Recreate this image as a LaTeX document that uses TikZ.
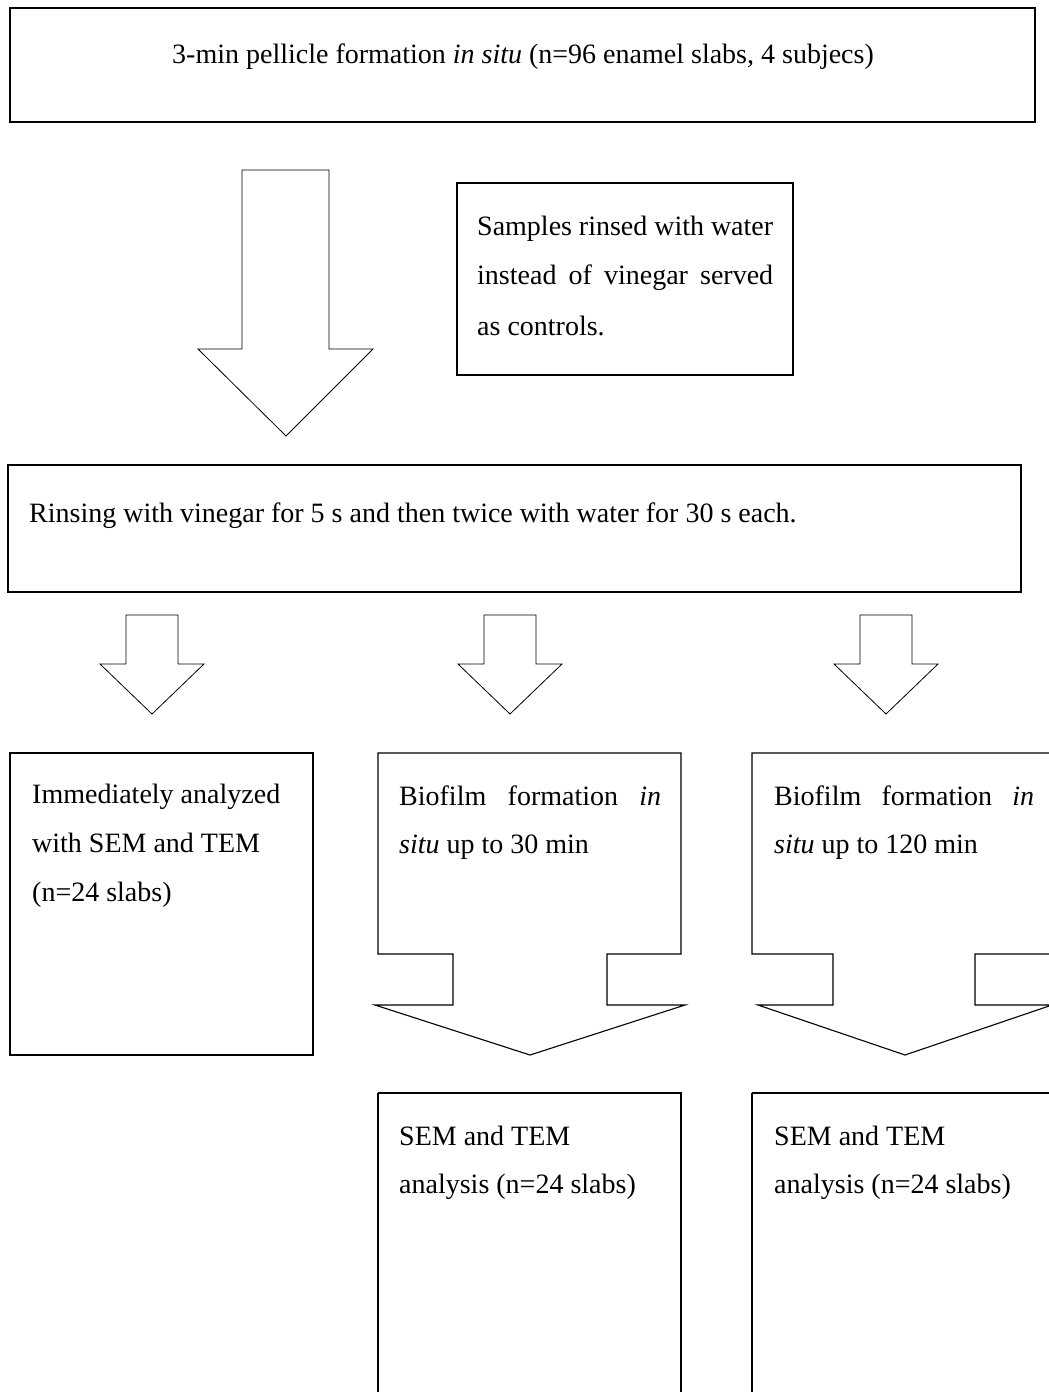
\documentclass[tikz,border=0pt]{standalone}
\usepackage{fontspec}
\setmainfont{Liberation Serif}
\begin{document}
\begin{tikzpicture}[x=1pt,y=-1pt,
  boxline/.style={draw=black,line width=1.1pt},
  arrline/.style={draw=black,line width=0.8pt,line join=miter},
  txt/.style={anchor=base west,inner sep=0pt,font=\fontsize{28}{48}\selectfont}]
\useasboundingbox[fill=white] (0,0) rectangle (1049,1392);
% top box
\draw[boxline] (10,8) rectangle (1035,122);
\node[txt] (t1) at (172,63) {3-min pellicle formation \textit{in situ} (n=96 enamel slabs, 4 subjecs)};
% big arrow
\draw[arrline] (242,170) -- (329,170) -- (329,349) -- (373,349) -- (286,436) -- (198,349) -- (242,349) -- cycle;
% control box
\draw[boxline] (457,183) rectangle (793,375);
\node[txt] (c1) at (477,235) {\makebox[296pt][s]{Samples rinsed with water}};
\node[txt] (c2) at (477,284) {\makebox[296pt][s]{instead of vinegar served}};
\node[txt] (c3) at (477,335) {as controls.};
% rinsing box
\draw[boxline] (8,465) rectangle (1021,592);
\node[txt] (r1) at (29,522) {Rinsing with vinegar for 5 s and then twice with water for 30 s each.};
% small arrows
\foreach \c in {152,510,886}{
  \draw[arrline] (\c-26,615) -- (\c+26,615) -- (\c+26,664) -- (\c+52,664) -- (\c,714) -- (\c-52,664) -- (\c-26,664) -- cycle;
}
% left box
\draw[boxline] (10,753) rectangle (313,1055);
\node[txt] (l1) at (32,803) {Immediately analyzed};
\node[txt] (l2) at (32,852) {with SEM and TEM};
\node[txt] (l3) at (32,901) {(n=24 slabs)};
% callout arrow boxes
\foreach \L/\R/\S/\T/\HL/\HR/\C in {378/681/453/607/375/685/530, 752/1058/833/975/758/1052/905}{
  \draw[boxline] (\L,753) -- (\R,753) -- (\R,954) -- (\T,954) -- (\T,1005) -- (\HR,1005) -- (\C,1055) -- (\HL,1005) -- (\S,1005) -- (\S,954) -- (\L,954) -- cycle;
}
\node[txt] (m1) at (399,805) {\makebox[262pt][s]{Biofilm formation \textit{in}}};
\node[txt] (m2) at (399,853) {\textit{situ} up to 30 min};
\node[txt] (n1) at (774,805) {\makebox[260pt][s]{Biofilm formation \textit{in}}};
\node[txt] (n2) at (774,853) {\textit{situ} up to 120 min};
% bottom boxes
\draw[boxline] (378,1093) -- (681,1093) -- (681,1400) (378,1093) -- (378,1400);
\draw[boxline] (752,1093) -- (1058,1093) -- (1058,1400) (752,1093) -- (752,1400);
\node[txt] (s1) at (399,1145) {SEM and TEM};
\node[txt] (s2) at (399,1193) {analysis (n=24 slabs)};
\node[txt] (u1) at (774,1145) {SEM and TEM};
\node[txt] (u2) at (774,1193) {analysis (n=24 slabs)};
\end{tikzpicture}
\end{document}
